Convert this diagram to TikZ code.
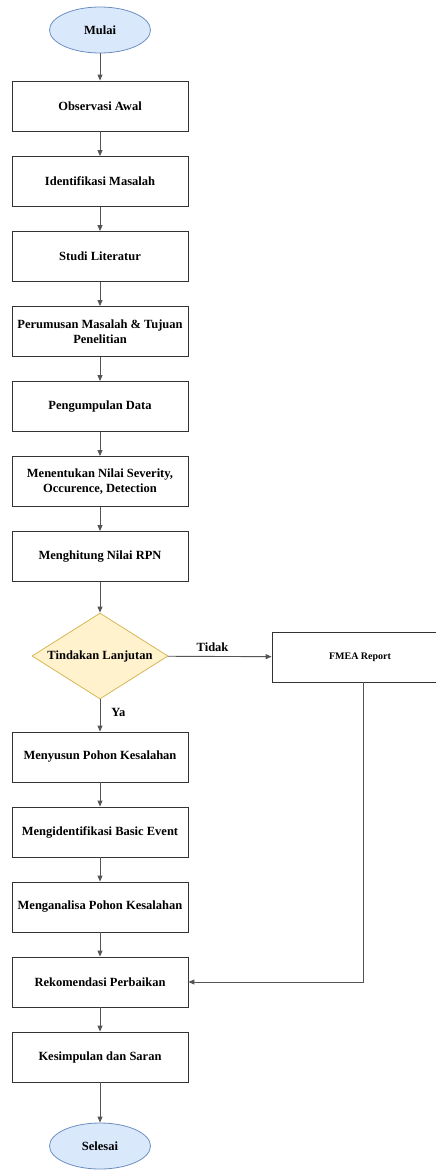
\documentclass[tikz,border=0pt]{standalone}
\usepackage{fontspec}
\setmainfont{Liberation Serif}
\usetikzlibrary{shapes.geometric,arrows.meta}
\definecolor{termfill}{HTML}{DAE8FC}
\definecolor{termdraw}{HTML}{6C8EBF}
\definecolor{decfill}{HTML}{FFF2CC}
\definecolor{decdraw}{HTML}{D6B656}
\definecolor{linegray}{HTML}{555555}
\begin{document}
\begin{tikzpicture}[x=1pt,y=-1pt,
  txt/.style={font=\bfseries\fontsize{12.5}{14.5}\selectfont},
  proc/.style={txt, draw=black!80, line width=0.8pt, minimum width=176pt, minimum height=50pt,
    align=center, inner sep=1pt},
  term/.style={txt, ellipse, draw=termdraw, fill=termfill, line width=0.8pt, minimum width=101pt,
    minimum height=46pt, inner sep=0pt},
  dec/.style={txt, diamond, draw=decdraw, fill=decfill, line width=0.8pt, minimum width=136pt,
    minimum height=86pt, inner sep=0pt, aspect=1.58},
  lbl/.style={txt, inner sep=1pt},
  arr/.style={draw=linegray, line width=0.9pt, -{Stealth[length=6pt,width=5pt,inset=0pt]}}
]
\useasboundingbox (0,0) rectangle (436,1170);
\node[term] (mulai) at (100,30) {Mulai};
\node[proc] (obs) at (100,106) {Observasi Awal};
\node[proc] (iden) at (100,181.5) {Identifikasi Masalah};
\node[proc] (studi) at (100,256.5) {Studi Literatur};
\node[proc] (perum) at (100,331.5) {Perumusan Masalah \& Tujuan\\Penelitian};
\node[proc] (peng) at (100,406.5) {Pengumpulan Data};
\node[proc] (menent) at (100,481.5) {Menentukan Nilai Severity,\\Occurence, Detection};
\node[proc] (mengh) at (100,556.5) {Menghitung Nilai RPN};
\node[dec] (tind) at (100,656) {Tindakan Lanjutan};
\node[proc, font=\bfseries\fontsize{10}{12}\selectfont] (fmea) at (360,657) {FMEA Report};
\node[proc] (menyu) at (100,757) {Menyusun Pohon Kesalahan};
\node[proc] (mengid) at (100,832) {Mengidentifikasi Basic Event};
\node[proc] (mengan) at (100,907) {Menganalisa Pohon Kesalahan};
\node[proc] (rek) at (100,982) {Rekomendasi Perbaikan};
\node[proc] (kes) at (100,1057) {Kesimpulan dan Saran};
\node[term] (sel) at (100,1146) {Selesai};
\coordinate (bend) at (363,982);

\draw[arr] (mulai) -- (obs);
\draw[arr] (obs) -- (iden);
\draw[arr] (iden) -- (studi);
\draw[arr] (studi) -- (perum);
\draw[arr] (perum) -- (peng);
\draw[arr] (peng) -- (menent);
\draw[arr] (menent) -- (mengh);
\draw[arr] (mengh) -- (tind);
\draw[arr] (tind) -- node[lbl, pos=0.43, above=3pt] {Tidak} (fmea);
\draw[arr] (tind) -- node[lbl, pos=0.4, right=10pt] {Ya} (menyu);
\draw[arr] (menyu) -- (mengid);
\draw[arr] (mengid) -- (mengan);
\draw[arr] (mengan) -- (rek);
\draw[arr] (fmea.south -| bend) -- (bend) -- (rek.east);
\draw[arr] (rek) -- (kes);
\draw[arr] (kes) -- (sel);
\end{tikzpicture}
\end{document}
